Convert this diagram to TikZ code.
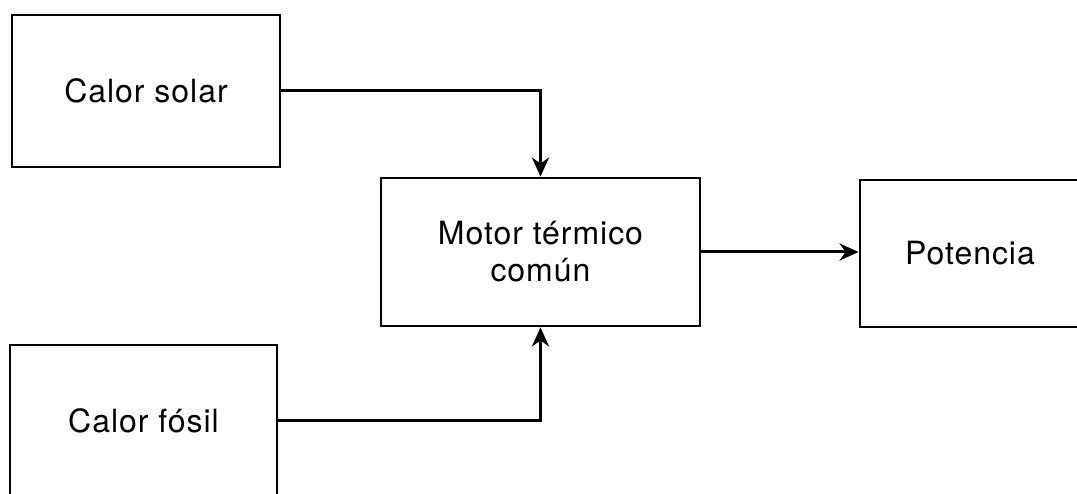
\documentclass[tikz,border=0pt]{standalone}
\usepackage{fontspec}
\setmainfont{TeX Gyre Heros}[LetterSpace=3]
\usetikzlibrary{arrows.meta}
\tikzset{
  blk/.style={draw, line width=2.8pt, rectangle, inner sep=0pt, align=center,
    font=\fontsize{32}{37}\selectfont},
  conn/.style={line width=3pt, -{Stealth[length=19pt,width=17pt,inset=6pt]}}
}
\begin{document}
\begin{tikzpicture}[x=1pt,y=-1pt]
\useasboundingbox (0,0) rectangle (1077,494);
\clip (0,0) rectangle (1077,494);
\node[blk, minimum width=268pt, minimum height=152pt] (solar) at (146,91) {Calor solar};
\node[blk, minimum width=267pt, minimum height=152pt] (fosil) at (143.5,421) {Calor fósil};
\node[blk, minimum width=319pt, minimum height=148pt] (motor) at (540.5,252) {Motor térmico\\común};
\node[blk, minimum width=220pt, minimum height=147pt] (pot) at (970,253.5) {Potencia};
\draw[conn] (solar.east) -| (motor.north);
\draw[conn] (fosil.east) -| (motor.south);
\draw[conn] (motor.east) -- (motor.east -| pot.west);
\end{tikzpicture}
\end{document}
